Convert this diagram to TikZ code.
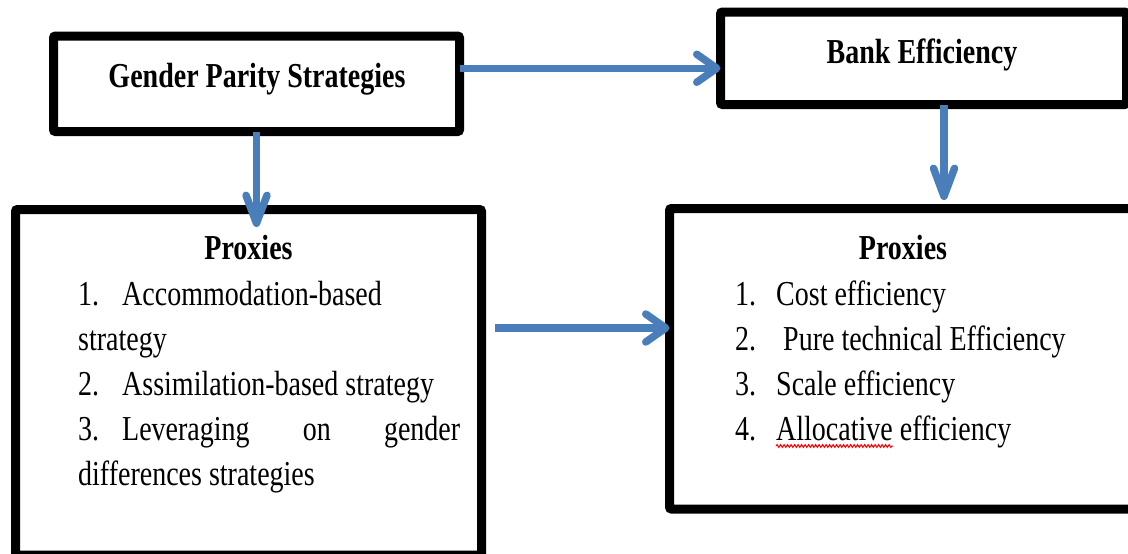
\documentclass[tikz,border=0pt]{standalone}
\usepackage{fontspec}
\setmainfont{Liberation Serif}[FakeStretch=0.8]
\usetikzlibrary{arrows.meta,decorations.pathmorphing}
\definecolor{flowblue}{HTML}{4A7EBB}
\tikzset{
  frame/.style={draw=black, line width=9pt, rounded corners=2pt, inner sep=0pt, outer sep=0pt},
  flow/.style={draw=flowblue, line width=7.5pt},
  vtip/.style={-{Straight Barb[round, length=28pt, width=21pt]}},
  htip/.style={-{Straight Barb[round, length=20pt, width=28pt]}},
  txt/.style={inner sep=0pt, font=\fontsize{35}{45}\selectfont},
  item/.style={txt, anchor=base west},
}
\begin{document}
\begin{tikzpicture}[x=1pt, y=-1pt]
\clip (0,0) rectangle (1128,554);
% boxes
\node[frame, minimum width=406pt, minimum height=95.5pt] (gps)   at (256.5,83.75) {};
\node[frame, minimum width=406pt, minimum height=92.5pt] (bank)  at (923.5,58.25) {};
\node[frame, minimum width=466pt, minimum height=345.5pt] (lprox) at (248.5,382.25) {};
\node[frame, minimum width=466pt, minimum height=300.5pt] (rprox) at (902.5,358.75) {};
% headings
\node[txt, anchor=base] (gpsText)  at (257,87)  {\bfseries Gender Parity Strategies};
\node[txt, anchor=base] (bankText) at (922,63)  {\bfseries Bank Efficiency};
\node[txt, anchor=base] (lproxHead) at (248.5,259) {\bfseries Proxies};
\node[txt, anchor=base] (rproxHead) at (903,259)   {\bfseries Proxies};
% left list
\node[item] (l1) at (78,305) {\makebox[44pt][l]{1.}Accommodation-based};
\node[item] (l2) at (78,350) {strategy};
\node[item] (l3) at (78,395) {\makebox[44pt][l]{2.}Assimilation-based strategy};
\node[item] (l4) at (78,440) {\makebox[382pt][s]{\makebox[44pt][l]{3.}Leveraging on gender}};
\node[item] (l5) at (78,485) {differences strategies};
% right list
\node[item] (r1) at (735,305) {\makebox[41pt][l]{1.}Cost efficiency};
\node[item] (r2) at (735,350) {\makebox[41pt][l]{2.}\ Pure technical Efficiency};
\node[item] (r3) at (735,395) {\makebox[41pt][l]{3.}Scale efficiency};
\node[item] (r4) at (735,440) {\makebox[41pt][l]{4.}Allocative efficiency};
\draw[red, line width=1pt, decorate, decoration={snake, amplitude=1.4pt, segment length=3.5pt}]
  (776,446) -- (893,446);
% arrows
\coordinate (ga) at ([yshift=15.5pt]gps.east);
\coordinate (ba) at ([xshift=20.5pt]bank.south);
\coordinate (ma) at (495,328);
\draw[flow, htip] (ga) -- (ga -| bank.west);
\draw[flow, vtip, shorten >=-17.5pt] (gps.south) -- (gps.south |- lprox.north);
\draw[flow, vtip, shorten >=8.5pt] (ba) -- (ba |- rprox.north);
\draw[flow, htip] (ma) -- (ma -| rprox.west);
\end{tikzpicture}
\end{document}
